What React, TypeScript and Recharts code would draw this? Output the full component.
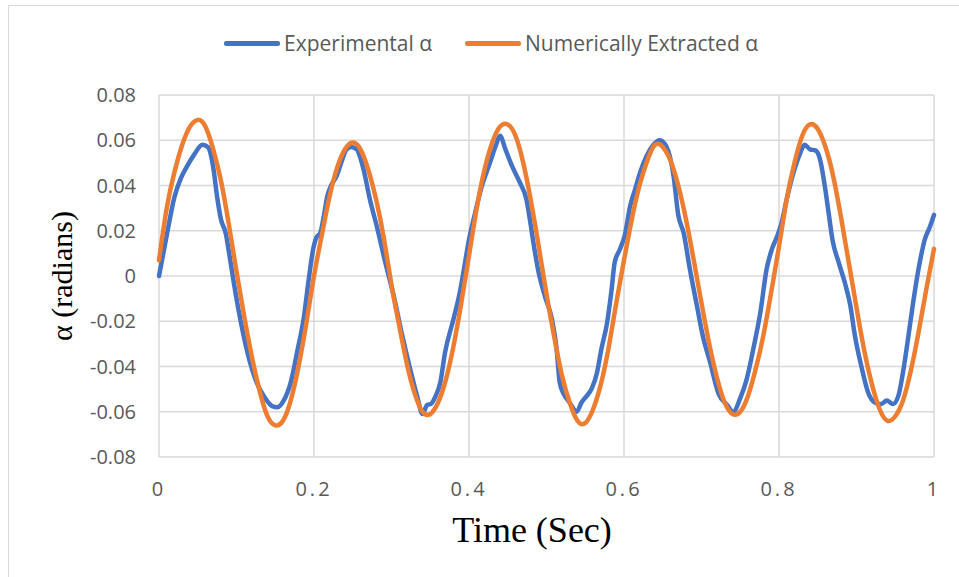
import React from "react";
import { CartesianGrid, Line, LineChart, XAxis, YAxis } from "recharts";

const timeTicks = [0, 0.2, 0.4, 0.6, 0.8, 1];
const alphaTicks = [-0.08, -0.06, -0.04, -0.02, 0, 0.02, 0.04, 0.06, 0.08];

// Experimental α, unevenly sampled (time in s, angle in rad)
const expTime = [
	0, 0.01, 0.02, 0.028, 0.037, 0.046, 0.056, 0.063, 0.07, 0.075, 0.08, 0.086,
	0.091, 0.098, 0.106, 0.115, 0.126, 0.137, 0.146, 0.153, 0.161, 0.17, 0.178,
	0.187, 0.193, 0.199, 0.203, 0.208, 0.213, 0.217, 0.222, 0.229, 0.236, 0.242,
	0.248, 0.255, 0.264, 0.272, 0.281, 0.292, 0.303, 0.313, 0.324, 0.333, 0.34,
	0.346, 0.351, 0.357, 0.363, 0.369, 0.38, 0.388, 0.392, 0.4, 0.408, 0.416,
	0.427, 0.435, 0.44, 0.447, 0.455, 0.466, 0.474, 0.479, 0.483, 0.489, 0.498,
	0.507, 0.513, 0.517, 0.522, 0.53, 0.539, 0.545, 0.552, 0.558, 0.565, 0.571,
	0.578, 0.584, 0.588, 0.595, 0.601, 0.608, 0.614, 0.621, 0.629, 0.638, 0.646,
	0.655, 0.664, 0.67, 0.677, 0.685, 0.694, 0.702, 0.711, 0.722, 0.733, 0.741,
	0.75, 0.758, 0.767, 0.776, 0.784, 0.791, 0.797, 0.803, 0.81, 0.819, 0.827,
	0.833, 0.84, 0.847, 0.853, 0.859, 0.864, 0.869, 0.877, 0.885, 0.892, 0.898,
	0.907, 0.915, 0.924, 0.932, 0.939, 0.947, 0.954, 0.96, 0.967, 0.973, 0.98,
	0.988, 0.995, 1,
];
const expAlpha = [
	0, 0.018, 0.035, 0.043, 0.049, 0.054, 0.058, 0.057, 0.048, 0.035, 0.025,
	0.019, 0.009, -0.006, -0.021, -0.035, -0.047, -0.054, -0.0575, -0.058, -0.055,
	-0.047, -0.034, -0.018, -0.002, 0.012, 0.017, 0.019, 0.027, 0.035, 0.04,
	0.044, 0.051, 0.056, 0.057, 0.056, 0.047, 0.034, 0.022, 0.006, -0.009, -0.025,
	-0.041, -0.053, -0.061, -0.057, -0.0565, -0.053, -0.047, -0.034, -0.019,
	-0.0075, 0, 0.016, 0.028, 0.039, 0.05, 0.058, 0.062, 0.056, 0.049, 0.041,
	0.034, 0.024, 0.015, 0.003, -0.009, -0.019, -0.032, -0.047, -0.052, -0.056,
	-0.06, -0.056, -0.053, -0.05, -0.043, -0.032, -0.021, -0.006, 0.006, 0.012,
	0.018, 0.031, 0.038, 0.046, 0.053, 0.058, 0.06, 0.057, 0.044, 0.027, 0.019,
	0.003, -0.013, -0.027, -0.038, -0.052, -0.057, -0.06, -0.054, -0.046, -0.032,
	-0.016, 0.003, 0.012, 0.017, 0.023, 0.034, 0.046, 0.054, 0.058, 0.056,
	0.0555, 0.0515, 0.04, 0.028, 0.016, 0.006, -0.003, -0.013, -0.0265, -0.041,
	-0.0515, -0.056, -0.0566, -0.055, -0.0566, -0.053, -0.0426, -0.0265, -0.012,
	0.003, 0.016, 0.022, 0.027,
];

// Numerically extracted α, one sample every 10 ms from 0 to 1 s
const numAlpha = [
	0.007, 0.03, 0.046, 0.058, 0.066, 0.069, 0.066, 0.056, 0.042, 0.023, 0.002,
	-0.018, -0.036, -0.051, -0.062, -0.066, -0.064, -0.055, -0.04, -0.021, 0,
	0.018, 0.035, 0.048, 0.056, 0.059, 0.056, 0.047, 0.034, 0.017, -0.004,
	-0.022, -0.039, -0.052, -0.06, -0.061, -0.056, -0.046, -0.031, -0.012, 0.009,
	0.03, 0.047, 0.059, 0.066, 0.067, 0.062, 0.05, 0.033, 0.013, -0.008, -0.027,
	-0.044, -0.056, -0.064, -0.065, -0.059, -0.048, -0.032, -0.012, 0.007, 0.025,
	0.04, 0.051, 0.058, 0.057, 0.051, 0.04, 0.025, 0.007, -0.012, -0.03, -0.045,
	-0.056, -0.061, -0.06, -0.053, -0.041, -0.026, -0.007, 0.013, 0.034, 0.05,
	0.062, 0.067, 0.065, 0.057, 0.044, 0.026, 0.006, -0.014, -0.033, -0.048,
	-0.059, -0.064, -0.062, -0.055, -0.042, -0.025, -0.006, 0.012,
];

const expData = expTime.map((t, i) => ({ t, alpha: expAlpha[i] }));
const numData = numAlpha.map((alpha, i) => ({ t: i / 100, alpha }));

const BLUE = "#4472C4";
const ORANGE = "#ED7D31";
const TEXT = "#595959";
const TICK_FONT = "'Open Sans', sans-serif";
const TITLE_FONT = "'Liberation Serif', 'Times New Roman', serif";

const formatAlpha = (v: number) => (v === 0 ? "0" : v.toFixed(2));

function LegendItem({ color, label }: { color: string; label: string }) {
	return (
		<div style={{ display: "flex", alignItems: "center" }}>
			<div
				style={{
					width: 56,
					height: 5,
					background: color,
					borderRadius: 2,
					marginRight: 4,
				}}
			/>
			<span>{label}</span>
		</div>
	);
}

export default function App() {
	return (
		<div
			style={{
				position: "absolute",
				left: 0,
				top: 0,
				width: 959,
				height: 577,
				overflow: "hidden",
				background: "#fff",
			}}
		>
			<div
				style={{
					position: "absolute",
					left: 8,
					top: 5,
					width: 1000,
					height: 1000,
					border: "1px solid #d9d9d9",
				}}
			/>

			<div
				style={{
					position: "absolute",
					left: 224,
					top: 29,
					height: 28,
					display: "flex",
					alignItems: "center",
					gap: 33,
					fontFamily: TICK_FONT,
					fontSize: 21,
					color: TEXT,
					whiteSpace: "nowrap",
				}}
			>
				<LegendItem color={BLUE} label="Experimental α" />
				<LegendItem color={ORANGE} label="Numerically Extracted α" />
			</div>

			<LineChart
				width={959}
				height={577}
				margin={{ top: 95, right: 25, bottom: 0, left: 0 }}
				style={{ position: "absolute", left: 0, top: 0 }}
			>
				<CartesianGrid stroke="#d9d9d9" strokeWidth={1.5} />
				<XAxis
					type="number"
					dataKey="t"
					domain={[0, 1]}
					ticks={timeTicks}
					height={120}
					axisLine={false}
					tickLine={false}
					tickSize={0}
					tickMargin={25}
					tickFormatter={(v: number) => String(v)}
					tick={{
						fill: TEXT,
						fontSize: 20,
						fontFamily: TICK_FONT,
						letterSpacing: 3,
					}}
				/>
				<YAxis
					type="number"
					domain={[-0.08, 0.08]}
					ticks={alphaTicks}
					width={159}
					axisLine={false}
					tickLine={false}
					tickSize={0}
					tickMargin={23}
					tickFormatter={formatAlpha}
					tick={{ fill: TEXT, fontSize: 20, fontFamily: TICK_FONT }}
				/>
				<Line
					data={expData}
					dataKey="alpha"
					type="monotone"
					stroke={BLUE}
					strokeWidth={4.5}
					strokeLinecap="round"
					dot={false}
					activeDot={false}
					isAnimationActive={false}
				/>
				<Line
					data={numData}
					dataKey="alpha"
					type="natural"
					stroke={ORANGE}
					strokeWidth={4.5}
					strokeLinecap="round"
					dot={false}
					activeDot={false}
					isAnimationActive={false}
				/>
			</LineChart>

			<div
				style={{
					position: "absolute",
					left: 62,
					top: 276,
					transform: "translate(-50%, -50%) rotate(-90deg)",
					fontFamily: TITLE_FONT,
					fontSize: 30,
					color: "#000",
					whiteSpace: "nowrap",
				}}
			>
				α (radians)
			</div>
			<div
				style={{
					position: "absolute",
					left: 532,
					top: 530,
					transform: "translate(-50%, -50%)",
					fontFamily: TITLE_FONT,
					fontSize: 36,
					color: "#000",
					whiteSpace: "nowrap",
				}}
			>
				Time (Sec)
			</div>
		</div>
	);
}
